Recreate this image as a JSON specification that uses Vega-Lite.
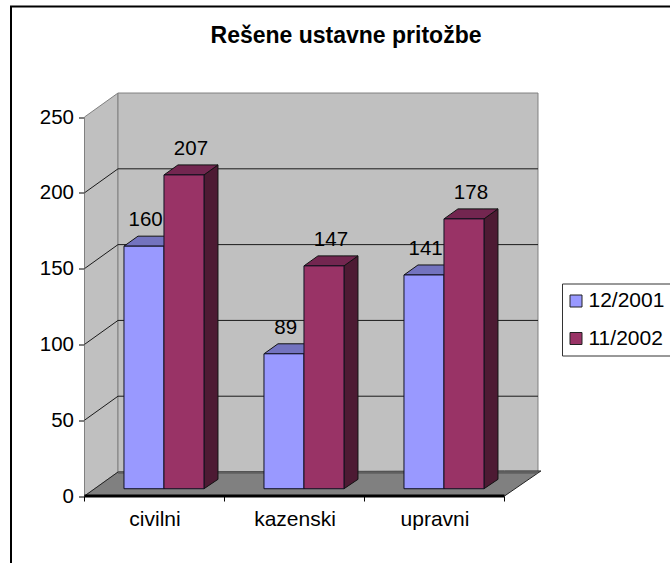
{
"$schema":"https://vega.github.io/schema/vega-lite/v6.json",
"width":662,"height":560,
"autosize":"none",
"padding":{"left":11,"top":6.5,"right":-3,"bottom":-3.5},
"background":"white",
"view":{"stroke":"black","strokeWidth":2,"fill":"white"},
"title":{"text":"Rešene ustavne pritožbe","anchor":"middle","frame":"group","dx":4,"dy":52,"offset":0,"baseline":"middle","font":"Liberation Sans","fontWeight":"bold","fontSize":23,"color":"black"},
"data":{"name":"bars","values":[
{"category":"civilni","series":"12/2001","value":160},
{"category":"civilni","series":"11/2002","value":207},
{"category":"kazenski","series":"12/2001","value":89},
{"category":"kazenski","series":"11/2002","value":147},
{"category":"upravni","series":"12/2001","value":141},
{"category":"upravni","series":"11/2002","value":178}
]},
"transform":[
{"calculate":"indexof(['civilni','kazenski','upravni'],datum.category)","as":"c"},
{"calculate":"indexof(['12/2001','11/2002'],datum.series)","as":"s"},
{"calculate":"datum.c+0.282+datum.s*0.2857","as":"L"},
{"calculate":"datum.L+0.2857","as":"R"},
{"calculate":"datum.value+4.8","as":"top"}
],
"resolve":{"axis":{"x":"independent","y":"independent"}},
"layer":[
{"data":{"values":[{"d":0},{"d":1}]},
 "transform":[{"calculate":"datum.d*0.2393","as":"x"},{"calculate":"datum.d*15.83","as":"y0"},{"calculate":"250+datum.d*15.83","as":"y1"}],
 "mark":{"type":"area","fill":"#C0C0C0","stroke":"#808080","strokeWidth":1},
 "encoding":{
  "x":{"field":"x","type":"quantitative","scale":{"domain":[-0.525,4.2036],"nice":false,"zero":false},"axis":null},
  "y":{"field":"y0","type":"quantitative","stack":null,"scale":{"domain":[-46.5,322.9],"nice":false,"zero":false},"axis":null},
  "y2":{"field":"y1"}}},
{"mark":{"type":"rect","fill":"#C0C0C0","stroke":"#808080","strokeWidth":1},
 "data":{"values":[{"wall":"back"}]},
 "encoding":{
  "x":{"datum":0.2393,"type":"quantitative","axis":null},"x2":{"datum":3.2393},
  "y":{"datum":15.83,"type":"quantitative","axis":null},"y2":{"datum":265.83}}},
{"data":{"values":[{"t":50},{"t":100},{"t":150},{"t":200}]},
 "transform":[{"calculate":"datum.t+15.83","as":"b"}],
 "mark":{"type":"rule","stroke":"#1a1a1a","strokeWidth":1},
 "encoding":{
  "x":{"datum":0.2393,"type":"quantitative","axis":null},"x2":{"datum":3.2393},
  "y":{"field":"b","type":"quantitative","axis":null}}},
{"data":{"values":[{"t":50},{"t":100},{"t":150},{"t":200}]},
 "transform":[{"calculate":"datum.t+15.83","as":"b"}],
 "mark":{"type":"rule","stroke":"#1a1a1a","strokeWidth":1},
 "encoding":{
  "x":{"datum":0,"type":"quantitative","axis":null},"x2":{"datum":0.2393},
  "y":{"field":"t","type":"quantitative","axis":null},"y2":{"field":"b"}}},
{"data":{"values":[{"k":0},{"k":1},{"k":2},{"k":3}]},
 "transform":[
  {"calculate":"[0,0.2393,3,3.26][datum.k]","as":"x"},
  {"calculate":"[0,0,0,16.5][datum.k]","as":"y0"},
  {"calculate":"[0,15.83,16.5,16.5][datum.k]","as":"y1"}],
 "mark":{"type":"area","fill":"#808080","stroke":"#222222","strokeWidth":1},
 "encoding":{
  "x":{"field":"x","type":"quantitative","axis":null},
  "y":{"field":"y0","type":"quantitative","stack":null,"axis":null},
  "y2":{"field":"y1"}}},
{"mark":{"type":"rule","stroke":"#5f5f5f","strokeWidth":2.5},
 "data":{"values":[{"edge":"floor"}]},
 "encoding":{
  "x":{"datum":0.2393,"type":"quantitative","axis":null},"x2":{"datum":3.2393},
  "y":{"datum":15.5,"type":"quantitative","axis":null}}},
{"mark":{"type":"rule","stroke":"black","strokeWidth":3},
 "data":{"values":[{"edge":"front"}]},
 "encoding":{
  "x":{"datum":0,"type":"quantitative","axis":null},"x2":{"datum":3},
  "y":{"datum":0,"type":"quantitative","axis":null}}},
{"data":{"values":[{"t":0},{"t":250}]},
 "mark":{"type":"tick","opacity":0},
 "encoding":{
  "x":{"datum":0,"type":"quantitative",
   "axis":{"values":[0,0.5,1,1.5,2,2.5,3],"orient":"bottom","offset":-70.5,"title":null,"domain":false,"grid":false,"tickSize":5,"tickColor":"black","tickOpacity":{"condition":{"test":"datum.value % 1 == 0","value":1},"value":0},"labelExpr":"datum.value==0.5?'civilni':datum.value==1.5?'kazenski':datum.value==2.5?'upravni':''","labelFont":"Liberation Sans","labelFontSize":21,"labelColor":"black","labelPadding":7,"labelOverlap":false,"labelFlush":false}},
  "y":{"field":"t","type":"quantitative",
   "axis":{"values":[0,50,100,150,200,250],"orient":"left","offset":-73.5,"title":null,"domain":false,"grid":false,"tickSize":6,"tickColor":"black","labelFont":"Liberation Sans","labelFontSize":20.5,"labelColor":"black","labelPadding":5}}}},
{"transform":[
  {"calculate":"[0,1]","as":"d"},{"flatten":["d"]},
  {"calculate":"datum.R+datum.d*0.1","as":"x"},
  {"calculate":"4.8+datum.d*6.2","as":"y0"},
  {"calculate":"datum.top+datum.d*6.6","as":"y1"}],
 "mark":{"type":"area","stroke":"#111111","strokeWidth":1},
 "encoding":{
  "x":{"field":"x","type":"quantitative","axis":null},
  "y":{"field":"y0","type":"quantitative","stack":null,"axis":null},
  "y2":{"field":"y1"},
  "detail":{"field":"L"},
  "fill":{"condition":{"test":"datum.s==0","value":"#4D4D80"},"value":"#4D1A33"}}},
{"transform":[
  {"calculate":"[0,1,2,3]","as":"k"},{"flatten":["k"]},
  {"calculate":"[datum.L,datum.L+0.1,datum.R,datum.R+0.1][datum.k]","as":"x"},
  {"calculate":"[datum.top,datum.top,datum.top,datum.top+6.6][datum.k]","as":"y0"},
  {"calculate":"[datum.top,datum.top+6.6,datum.top+6.6,datum.top+6.6][datum.k]","as":"y1"}],
 "mark":{"type":"area","stroke":"#111111","strokeWidth":1},
 "encoding":{
  "x":{"field":"x","type":"quantitative","axis":null},
  "y":{"field":"y0","type":"quantitative","stack":null,"axis":null},
  "y2":{"field":"y1"},
  "detail":{"field":"L"},
  "fill":{"condition":{"test":"datum.s==0","value":"#7373BF"},"value":"#732650"}}},
{"transform":[{"calculate":"4.8","as":"base"}],
 "mark":{"type":"rect","stroke":"#111122","strokeWidth":1},
 "encoding":{
  "x":{"field":"L","type":"quantitative","axis":null},"x2":{"field":"R"},
  "y":{"field":"base","type":"quantitative","axis":null},"y2":{"field":"top"},
  "color":{"field":"series","type":"nominal","scale":{"domain":["12/2001","11/2002"],"range":["#9999FF","#993366"]},
   "legend":{"title":null,"orient":"none","legendX":551,"legendY":277,"padding":7,"fillColor":"white","strokeColor":"#333333","symbolType":"square","symbolSize":144,"symbolOffset":-3.5,"symbolStrokeColor":"#222222","symbolStrokeWidth":1,"labelFont":"Liberation Sans","labelFontSize":21,"labelColor":"black","labelOffset":2,"rowPadding":15.5,"symbolOpacity":1}}}},
{"transform":[{"calculate":"(datum.L+datum.R)/2+(datum.s==0?0.012:0.05)","as":"cx"}],
 "mark":{"type":"text","font":"Liberation Sans","fontSize":20.5,"color":"black","dy":-26,"baseline":"middle","align":"center"},
 "encoding":{
  "x":{"field":"cx","type":"quantitative","axis":null},
  "y":{"field":"top","type":"quantitative","axis":null},
  "text":{"field":"value","type":"quantitative"}}}
]
}
